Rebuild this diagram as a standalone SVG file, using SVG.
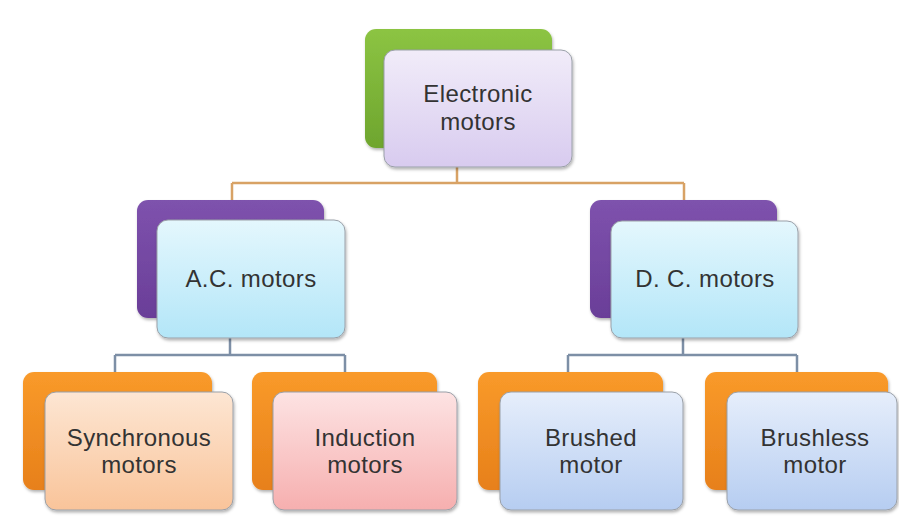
<svg xmlns="http://www.w3.org/2000/svg" width="899" height="516" viewBox="0 0 899 516">
<defs>
<linearGradient id="gGreen" x1="0" y1="0" x2="0" y2="1"><stop offset="0" stop-color="#8cc443"/><stop offset="1" stop-color="#6ea52e"/></linearGradient>
<linearGradient id="gPurple" x1="0" y1="0" x2="0" y2="1"><stop offset="0" stop-color="#7e52ad"/><stop offset="1" stop-color="#6a3e98"/></linearGradient>
<linearGradient id="gOrange" x1="0" y1="0" x2="0" y2="1"><stop offset="0" stop-color="#f99a2a"/><stop offset="1" stop-color="#e7801a"/></linearGradient>
<linearGradient id="gLav" x1="0" y1="0" x2="0" y2="1"><stop offset="0" stop-color="#f1ecf9"/><stop offset="1" stop-color="#d8cbef"/></linearGradient>
<linearGradient id="gCyan" x1="0" y1="0" x2="0" y2="1"><stop offset="0" stop-color="#e4f7fd"/><stop offset="1" stop-color="#b3e6f8"/></linearGradient>
<linearGradient id="gPeach" x1="0" y1="0" x2="0" y2="1"><stop offset="0" stop-color="#fde6d3"/><stop offset="1" stop-color="#f9c49a"/></linearGradient>
<linearGradient id="gPink" x1="0" y1="0" x2="0" y2="1"><stop offset="0" stop-color="#fde3e3"/><stop offset="1" stop-color="#f6afaf"/></linearGradient>
<linearGradient id="gBlue" x1="0" y1="0" x2="0" y2="1"><stop offset="0" stop-color="#e6eefb"/><stop offset="1" stop-color="#b6cdf1"/></linearGradient>
<filter id="sh" x="-10%" y="-10%" width="125%" height="130%"><feDropShadow dx="1" dy="2" stdDeviation="1.5" flood-color="#000" flood-opacity="0.3"/></filter>
</defs>
<style>
.back{stroke:none;filter:url(#sh)}
.front{stroke:#9aa0a8;stroke-width:1;filter:url(#sh)}
.t{font-family:"Liberation Sans",Arial,sans-serif;font-size:24px;fill:#333;text-anchor:middle;letter-spacing:0.4px}
.c1{fill:none;stroke:#d8a265;stroke-width:2.5}
.c2{fill:none;stroke:#7d8fa6;stroke-width:2.5}
</style>
<rect width="899" height="516" fill="#fff"/>
<g id="connectors">
<path class="c1" d="M457 167 V183 M232 183 H684 M232 183 V200 M684 183 V200"/>
<path class="c2" d="M230 338 V355 M115 355 H345 M115 355 V372 M345 355 V372"/>
<path class="c2" d="M683 338 V355 M568 355 H797 M568 355 V372 M797 355 V372"/>
</g>
<g id="electronic-motors">
<rect class="back" x="365" y="29" width="187" height="119" rx="11" fill="url(#gGreen)"/>
<rect class="front" x="384" y="50" width="188" height="117" rx="11" fill="url(#gLav)"/>
<text class="t" x="478" y="102">Electronic</text>
<text class="t" x="478" y="130">motors</text>
</g>
<g id="ac-motors">
<rect class="back" x="137" y="200" width="187" height="118" rx="11" fill="url(#gPurple)"/>
<rect class="front" x="157" y="220" width="188" height="118" rx="11" fill="url(#gCyan)"/>
<text class="t" x="251" y="287">A.C. motors</text>
</g>
<g id="dc-motors">
<rect class="back" x="590" y="200" width="187" height="118" rx="11" fill="url(#gPurple)"/>
<rect class="front" x="611" y="221" width="187" height="117" rx="11" fill="url(#gCyan)"/>
<text class="t" x="705" y="287">D. C. motors</text>
</g>
<g id="synchronous-motors">
<rect class="back" x="23" y="372" width="189" height="118" rx="11" fill="url(#gOrange)"/>
<rect class="front" x="45" y="392" width="188" height="118" rx="11" fill="url(#gPeach)"/>
<text class="t" x="139" y="446">Synchronous</text>
<text class="t" x="139" y="473">motors</text>
</g>
<g id="induction-motors">
<rect class="back" x="252" y="372" width="185" height="118" rx="11" fill="url(#gOrange)"/>
<rect class="front" x="273" y="392" width="184" height="118" rx="11" fill="url(#gPink)"/>
<text class="t" x="365" y="446">Induction</text>
<text class="t" x="365" y="473">motors</text>
</g>
<g id="brushed-motor">
<rect class="back" x="478" y="372" width="185" height="118" rx="11" fill="url(#gOrange)"/>
<rect class="front" x="500" y="392" width="183" height="118" rx="11" fill="url(#gBlue)"/>
<text class="t" x="591" y="446">Brushed</text>
<text class="t" x="591" y="473">motor</text>
</g>
<g id="brushless-motor">
<rect class="back" x="705" y="372" width="183" height="118" rx="11" fill="url(#gOrange)"/>
<rect class="front" x="727" y="392" width="170" height="118" rx="11" fill="url(#gBlue)"/>
<text class="t" x="815" y="446">Brushless</text>
<text class="t" x="815" y="473">motor</text>
</g>
</svg>
